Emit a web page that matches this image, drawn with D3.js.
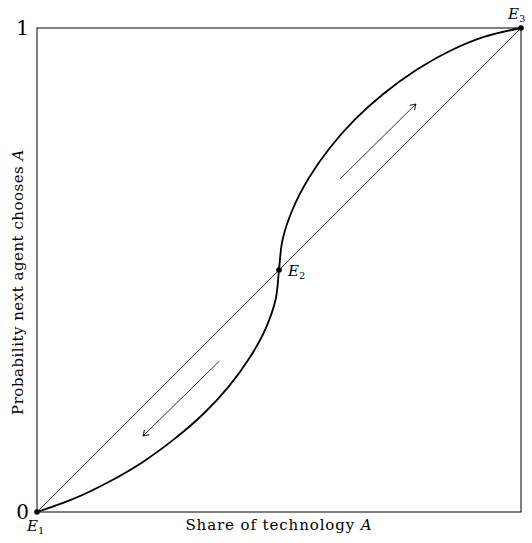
<!DOCTYPE html>
<html>
<head>
<meta charset="utf-8">
<script src="https://cdn.jsdelivr.net/npm/d3@7"></script>
<style>
  body { margin: 0; background: #fff; }
  text { font-family: "DejaVu Serif", serif; fill: #000; }
</style>
</head>
<body>
<svg id="chart"></svg>
<script>
// share of A (x) vs probability next agent chooses A (y)
var shareA = [0, 0.075, 0.148, 0.218, 0.284, 0.344, 0.396, 0.439, 0.472, 0.493, 0.5,
  0.507, 0.528, 0.561, 0.604, 0.656, 0.716, 0.782, 0.852, 0.925, 1];
var probA = [0, 0.027, 0.062, 0.103, 0.151, 0.203, 0.259, 0.318, 0.378, 0.439, 0.5,
  0.561, 0.625, 0.689, 0.751, 0.810, 0.864, 0.912, 0.952, 0.982, 1];

var eqNames = ["E", "E", "E"];
var eqSubs = ["1", "2", "3"];
var eqX = [0, 0.5, 1];
var eqY = [0, 0.5, 1];

// arrows: [from, to]
var arrowFrom = [[0.377, 0.312], [0.626, 0.688]];
var arrowTo = [[0.219, 0.157], [0.783, 0.843]];

var tickVals = [0, 1];

var W = 532, H = 543;
var svg = d3.select("#chart").attr("width", W).attr("height", H);

var x = d3.scaleLinear().domain([0, 1]).range([37, 521]);
var y = d3.scaleLinear().domain([0, 1]).range([512, 28]);

svg.append("defs").append("marker")
  .attr("id", "head")
  .attr("viewBox", "-6 -4 8 8")
  .attr("refX", 0).attr("refY", 0)
  .attr("markerWidth", 8).attr("markerHeight", 8)
  .attr("markerUnits", "userSpaceOnUse")
  .attr("orient", "auto")
  .append("path")
  .attr("d", "M-5,-3.2 Q-1.5,-0.8 0,0 Q-1.5,0.8 -5,3.2")
  .attr("fill", "none")
  .attr("stroke", "#000")
  .attr("stroke-width", 0.9)
  .attr("stroke-linecap", "round");

// frame
svg.append("rect")
  .attr("x", x(0)).attr("y", y(1))
  .attr("width", x(1) - x(0)).attr("height", y(0) - y(1))
  .attr("fill", "none").attr("stroke", "#000").attr("stroke-width", 1);

// 45 degree line
svg.append("line")
  .attr("x1", x(0)).attr("y1", y(0))
  .attr("x2", x(1)).attr("y2", y(1))
  .attr("stroke", "#000").attr("stroke-width", 0.8);

// s-curve
var pts = shareA.map(function(d, i) { return [d, probA[i]]; });
var line = d3.line()
  .x(function(d) { return x(d[0]); })
  .y(function(d) { return y(d[1]); })
  .curve(d3.curveCatmullRom.alpha(0.5));
svg.append("path")
  .datum(pts)
  .attr("d", line)
  .attr("fill", "none")
  .attr("stroke", "#000")
  .attr("stroke-width", 1.8);

// arrows
arrowFrom.forEach(function(f, i) {
  svg.append("line")
    .attr("x1", x(f[0])).attr("y1", y(f[1]))
    .attr("x2", x(arrowTo[i][0])).attr("y2", y(arrowTo[i][1]))
    .attr("stroke", "#000").attr("stroke-width", 0.8)
    .attr("marker-end", "url(#head)");
});

// equilibrium dots
svg.selectAll("circle.eq")
  .data(eqX)
  .enter().append("circle")
  .attr("class", "eq")
  .attr("cx", function(d) { return x(d); })
  .attr("cy", function(d, i) { return y(eqY[i]); })
  .attr("r", 2.8)
  .attr("fill", "#000");

// equilibrium labels
var labPos = [[-10, 19], [9, 6], [-13, -9]];
eqX.forEach(function(d, i) {
  var t = svg.append("text")
    .attr("x", x(d) + labPos[i][0])
    .attr("y", y(eqY[i]) + labPos[i][1])
    .style("font-size", "15px")
    .style("font-style", "italic");
  t.append("tspan").text(eqNames[i]);
  t.append("tspan")
    .attr("dy", 3)
    .style("font-style", "normal")
    .style("font-size", "10px")
    .text(eqSubs[i]);
});

// y axis tick labels (no tick marks)
var yAxis = d3.axisLeft(y).tickValues(tickVals).tickSize(0).tickPadding(8)
  .tickFormat(d3.format("d"));
var gy = svg.append("g").attr("transform", "translate(" + x(0) + ",0)").call(yAxis);
gy.select(".domain").remove();
gy.selectAll("text")
  .style("font-family", "DejaVu Serif, serif")
  .style("font-size", "20px")
  .attr("fill", "#000");

// axis titles
var xt = svg.append("text")
  .attr("x", (x(0) + x(1)) / 2)
  .attr("y", 530)
  .attr("text-anchor", "middle")
  .style("font-size", "15px")
  .style("letter-spacing", "0.9px");
xt.append("tspan").text("Share of technology ");
xt.append("tspan").style("font-style", "italic").text("A");

var yt = svg.append("text")
  .attr("transform", "translate(23," + (y(0.5) + 12) + ") rotate(-90)")
  .attr("text-anchor", "middle")
  .style("font-size", "15px")
  .style("letter-spacing", "0.5px");
yt.append("tspan").text("Probability next agent chooses ");
yt.append("tspan").style("font-style", "italic").text("A");
</script>
</body>
</html>
